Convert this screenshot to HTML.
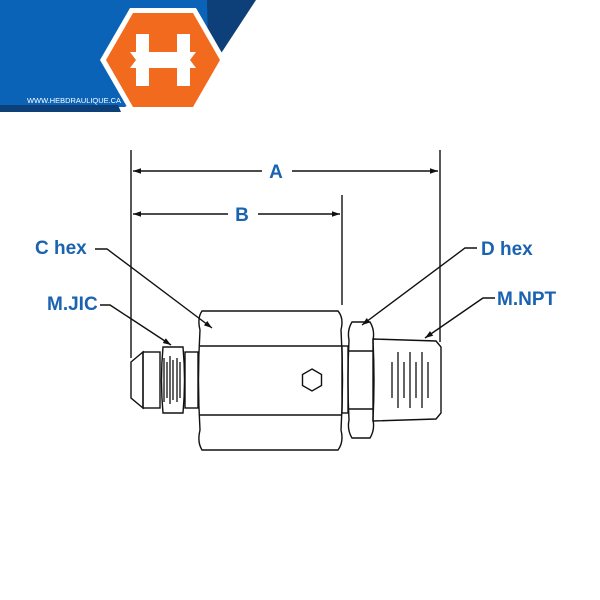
<!DOCTYPE html>
<html><head><style>
html,body{margin:0;padding:0;background:#fff;width:600px;height:600px;overflow:hidden}
</style></head><body>
<svg width="600" height="600" viewBox="0 0 600 600" xmlns="http://www.w3.org/2000/svg">
<defs>
<marker id="ar" viewBox="0 0 10 10" refX="10" refY="5" markerWidth="10" markerHeight="8" orient="auto-start-reverse" markerUnits="userSpaceOnUse">
<path d="M0,1.5 L10,5 L0,8.5 z" fill="#111"/></marker>
</defs>
<!-- logo -->
<polygon points="0,0 215,0 215,45 125,107 0,107" fill="#0b63b8"/>
<polygon points="0,105 118,105 121,112 0,112" fill="#0d3f78"/>
<polygon points="207,0 256,0 218,58 208,42" fill="#0d3f78"/>
<polygon points="100,60 130,8 196,8 226,60 196,112 130,112" fill="#fff"/>
<polygon points="106,60 133,13 193,13 220,60 193,107 133,107" fill="#f26a1e"/>
<path d="M136,34 h13 v20 h28 v-20 h13 v52 h-13 v-18 h-28 v18 h-13 z" fill="#fff"/>
<polygon points="130,52 196,52 190,60 196,68 130,68 136,60" fill="#fff"/>
<text x="27" y="103" font-family="Liberation Sans,sans-serif" font-size="7.5" fill="#fff" textLength="94" lengthAdjust="spacingAndGlyphs">WWW.HEBDRAULIQUE.CA</text>

<g stroke="#111" stroke-width="1.4" fill="none">
<line x1="131" y1="150" x2="131" y2="358"/>
<line x1="342" y1="195" x2="342" y2="305"/>
<line x1="440" y1="150" x2="440" y2="342"/>
<line x1="133" y1="171" x2="262" y2="171" marker-start="url(#ar)"/>
<line x1="292" y1="171" x2="438" y2="171" marker-end="url(#ar)"/>
<line x1="133" y1="214" x2="228" y2="214" marker-start="url(#ar)"/>
<line x1="258" y1="214" x2="340" y2="214" marker-end="url(#ar)"/>
<polyline points="95,249 107,249 212,328" marker-end="url(#ar)"/>
<polyline points="100,305 110,305 171,345" marker-end="url(#ar)"/>
<polyline points="477,248 465,248 362,325" marker-end="url(#ar)"/>
<polyline points="495,298 483,298 425,338" marker-end="url(#ar)"/>
<polygon points="131,362 143,352 143,408 131,398"/>
<rect x="143" y="352" width="17" height="56"/>
<path d="M163,347 H183 Q186,380 183,413 H163 Q160,380 163,347 Z"/>
<rect x="185" y="352" width="13" height="56"/>
<path d="M202,311 H338 Q344,318 341,330 Q344,380 341,430 Q344,442 338,450 H202 Q197,442 200,430 Q197,380 200,330 Q197,318 202,311 Z"/>
<line x1="200" y1="346" x2="341" y2="346"/>
<line x1="200" y1="415" x2="341" y2="415"/>
<polygon points="312,369 321.5,374.5 321.5,385.5 312,391 302.5,385.5 302.5,374.5"/>
<rect x="342" y="346" width="6" height="67"/>
<path d="M352,322 H370 Q375,330 373,340 Q375,380 373,420 Q375,430 370,438 H352 Q347,430 349,420 Q347,380 349,340 Q347,330 352,322 Z"/>
<line x1="349" y1="351" x2="373" y2="351"/>
<line x1="349" y1="409" x2="373" y2="409"/>
<polygon points="373,339 436,341 441,347 441,413 436,419 373,421"/>
</g>
<g stroke="#111" stroke-width="1.3">
<line x1="164" y1="358" x2="164" y2="402"/><line x1="167" y1="362" x2="167" y2="398"/>
<line x1="170" y1="356" x2="170" y2="404"/><line x1="173" y1="360" x2="173" y2="400"/>
<line x1="177" y1="358" x2="177" y2="402"/><line x1="180" y1="362" x2="180" y2="398"/>
<line x1="392" y1="362" x2="392" y2="398"/><line x1="398" y1="352" x2="398" y2="408"/>
<line x1="404" y1="362" x2="404" y2="398"/><line x1="410" y1="352" x2="410" y2="408"/>
<line x1="416" y1="362" x2="416" y2="398"/><line x1="422" y1="352" x2="422" y2="408"/>
<line x1="428" y1="362" x2="428" y2="398"/>
</g>
<g font-family="Liberation Sans,sans-serif" font-weight="bold" font-size="19" fill="#1a63b0">
<text x="276" y="178" text-anchor="middle">A</text>
<text x="242" y="221" text-anchor="middle">B</text>
<text x="35" y="254">C hex</text>
<text x="47" y="310">M.JIC</text>
<text x="481" y="255">D hex</text>
<text x="497" y="305">M.NPT</text>
</g>
</svg>
</body></html>
